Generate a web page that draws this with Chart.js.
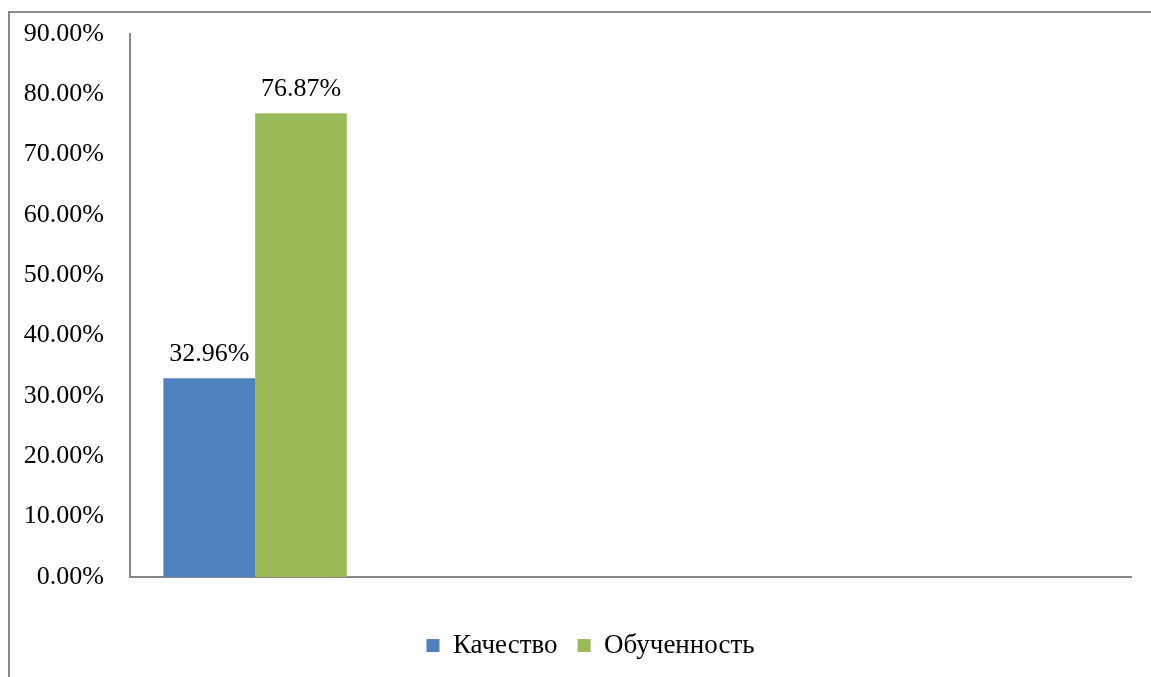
<!DOCTYPE html>
<html>
<head>
<meta charset="utf-8">
<script src="https://cdn.jsdelivr.net/npm/chart.js@4.4.0/dist/chart.umd.min.js"></script>
<style>
  body { margin: 0; background: #fff; }
  #wrap { position: relative; width: 1151px; height: 677px; }
  #frame {
    position: absolute; left: 8px; top: 11px; right: 0; bottom: 0;
    border-left: 2px solid #8c8c8c; border-top: 2px solid #8c8c8c;
  }
  canvas { position: absolute; left: 0; top: 0; }
</style>
</head>
<body>
<div id="wrap">
  <div id="frame"></div>
  <canvas id="chart"></canvas>
</div>
<script>
// категории (заполнена только первая)
const categories = ['', '', '', ''];
const kachestvo = [32.96, null, null, null];
const obuchennost = [76.87, null, null, null];
const seriesNames = ['Качество', 'Обученность'];
const yMax = 90;
const yStep = 10;

const FAMILY = '"Liberation Serif", "Times New Roman", serif';
const FONT = { family: FAMILY, size: 26 };

// подписи значений над столбцами
const valueLabels = {
  id: 'valueLabels',
  afterDatasetsDraw(chart) {
    const ctx = chart.ctx;
    ctx.save();
    ctx.font = FONT.size + 'px ' + FONT.family;
    ctx.fillStyle = '#000';
    ctx.textAlign = 'center';
    ctx.textBaseline = 'middle';
    chart.data.datasets.forEach((ds, i) => {
      chart.getDatasetMeta(i).data.forEach((bar, j) => {
        const v = ds.data[j];
        if (v == null) return;
        ctx.fillText(v.toFixed(2) + '%', bar.x, bar.y - 24);
      });
    });
    ctx.restore();
  }
};

// легенда в оригинале чуть правее центра
const legendShift = {
  id: 'legendShift',
  afterLayout(chart) {
    const lg = chart.legend;
    lg.left += 14; lg.right += 14;
    lg.top -= 8; lg.bottom -= 8;
  }
};

new Chart(document.getElementById('chart'), {
  type: 'bar',
  data: {
    labels: categories,
    datasets: [
      { label: seriesNames[0], data: kachestvo, backgroundColor: '#4F81BD' },
      { label: seriesNames[1], data: obuchennost, backgroundColor: '#9BBB59' }
    ]
  },
  options: {
    responsive: true,
    maintainAspectRatio: false,
    animation: false,
    layout: { padding: { left: 22, right: 20, top: 34, bottom: 0 } },
    datasets: { bar: { barPercentage: 1, categoryPercentage: 0.733 } },
    scales: {
      x: {
        grid: { display: false, drawTicks: false },
        border: { display: true, color: '#868686', width: 2 },
        ticks: { display: false },
        afterFit(scale) { scale.height = 43; }
      },
      y: {
        min: 0,
        max: yMax,
        grid: { display: false, drawTicks: false },
        border: { display: true, color: '#868686', width: 2 },
        ticks: {
          stepSize: yStep,
          padding: 26,
          color: '#000',
          font: FONT,
          callback: (v) => v.toFixed(2) + '%'
        },
        afterFit(scale) {
          scale.width = 108;
          scale.paddingTop = 0;
          scale.paddingBottom = 0;
        }
      }
    },
    plugins: {
      legend: {
        position: 'bottom',
        labels: {
          boxWidth: 13,
          boxHeight: 13,
          padding: 20,
          color: '#000',
          font: { family: FAMILY, size: 27 }
        }
      },
      tooltip: { enabled: false }
    }
  },
  plugins: [valueLabels, legendShift]
});
</script>
</body>
</html>
